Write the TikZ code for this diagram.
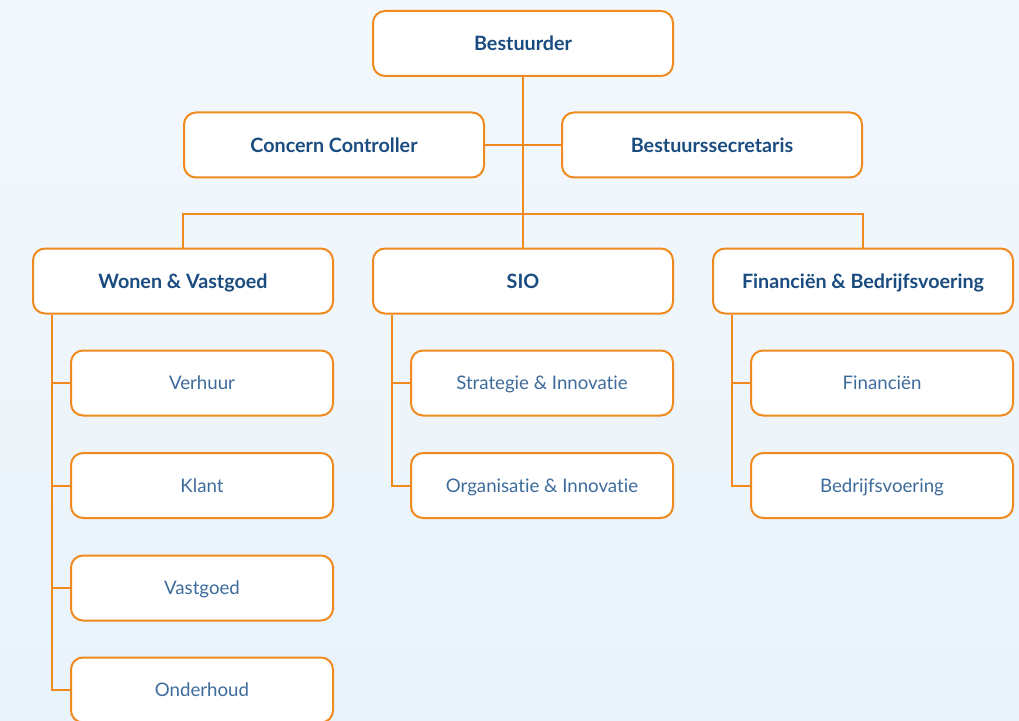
\documentclass[tikz,border=0pt]{standalone}
\usepackage{fontspec}
\setmainfont{Lato}[Ligatures=NoCommon]
\usepackage{xcolor}
\usetikzlibrary{positioning,calc}

\definecolor{lijnoranje}{HTML}{F08A1F}
\definecolor{kopblauw}{HTML}{1A4C80}
\definecolor{tekstblauw}{HTML}{3D6C9C}
\definecolor{achtergrondboven}{HTML}{F3F8FC}
\definecolor{achtergrondonder}{HTML}{E9F3FB}

\begin{document}
\begin{tikzpicture}[
    x=0.75pt, y=-0.75pt,
    font=\fontsize{14}{16}\selectfont,
    % boxes for the management levels
    hoofd/.style={rectangle, draw=lijnoranje, line width=1.5pt, rounded corners=9pt, fill=white,
        minimum width=225pt, minimum height=48.75pt, text=kopblauw, text height=10.6pt, text depth=0pt,
        font=\fontsize{14.8}{17}\selectfont\bfseries},
    afdeling/.style={rectangle, draw=lijnoranje, line width=1.5pt, rounded corners=9pt, fill=white,
        minimum width=196.5pt, minimum height=48.75pt, text=tekstblauw, text height=10.1pt, text depth=0pt},
    verbinding/.style={draw=lijnoranje, line width=1.5pt}
]
    % --- Background ---
    \clip (0,0) rectangle (1019,720);
    \shade[top color=achtergrondboven, bottom color=achtergrondonder] (0,0) rectangle (1019,720);

    % --- Top level ---
    \node[hoofd] (bestuurder) at (523,43.5) {Bestuurder};
    \node[hoofd] (controller) at (334,145) {Concern Controller};
    \node[hoofd] (secretaris) at (712,145) {Bestuurssecretaris};

    % --- Clusters ---
    \node[hoofd] (wonen) at (183,281) {Wonen \& Vastgoed};
    \node[hoofd] (sio) at (523,281) {SIO};
    \node[hoofd] (financien) at (863,281) {Financiën \& Bedrijfsvoering};

    % --- Departments ---
    \node[afdeling] (verhuur) at (202,383) {Verhuur};
    \node[afdeling] (klant) at (202,485.5) {Klant};
    \node[afdeling] (vastgoed) at (202,588) {Vastgoed};
    \node[afdeling] (onderhoud) at (202,690) {Onderhoud};

    \node[afdeling] (strategie) at (542,383) {Strategie \& Innovatie};
    \node[afdeling] (organisatie) at (542,485.5) {Organisatie \& Innovatie};

    \node[afdeling] (financienafd) at (882,383) {Financiën};
    \node[afdeling] (bedrijfsvoering) at (882,485.5) {Bedrijfsvoering};

    % --- Connectors ---
    \coordinate (splitsing) at (523,214);
    \draw[verbinding] (bestuurder.south) -- (sio.north);
    \draw[verbinding] (controller.east) -- (secretaris.west);
    \draw[verbinding] (wonen.north) |- (splitsing) -| (financien.north);

    \foreach \kind in {verhuur,klant,vastgoed,onderhoud}
        \draw[verbinding] ([xshift=15pt]wonen.south west) |- (\kind.west);
    \foreach \kind in {strategie,organisatie}
        \draw[verbinding] ([xshift=15pt]sio.south west) |- (\kind.west);
    \foreach \kind in {financienafd,bedrijfsvoering}
        \draw[verbinding] ([xshift=15pt]financien.south west) |- (\kind.west);

\end{tikzpicture}
\end{document}
